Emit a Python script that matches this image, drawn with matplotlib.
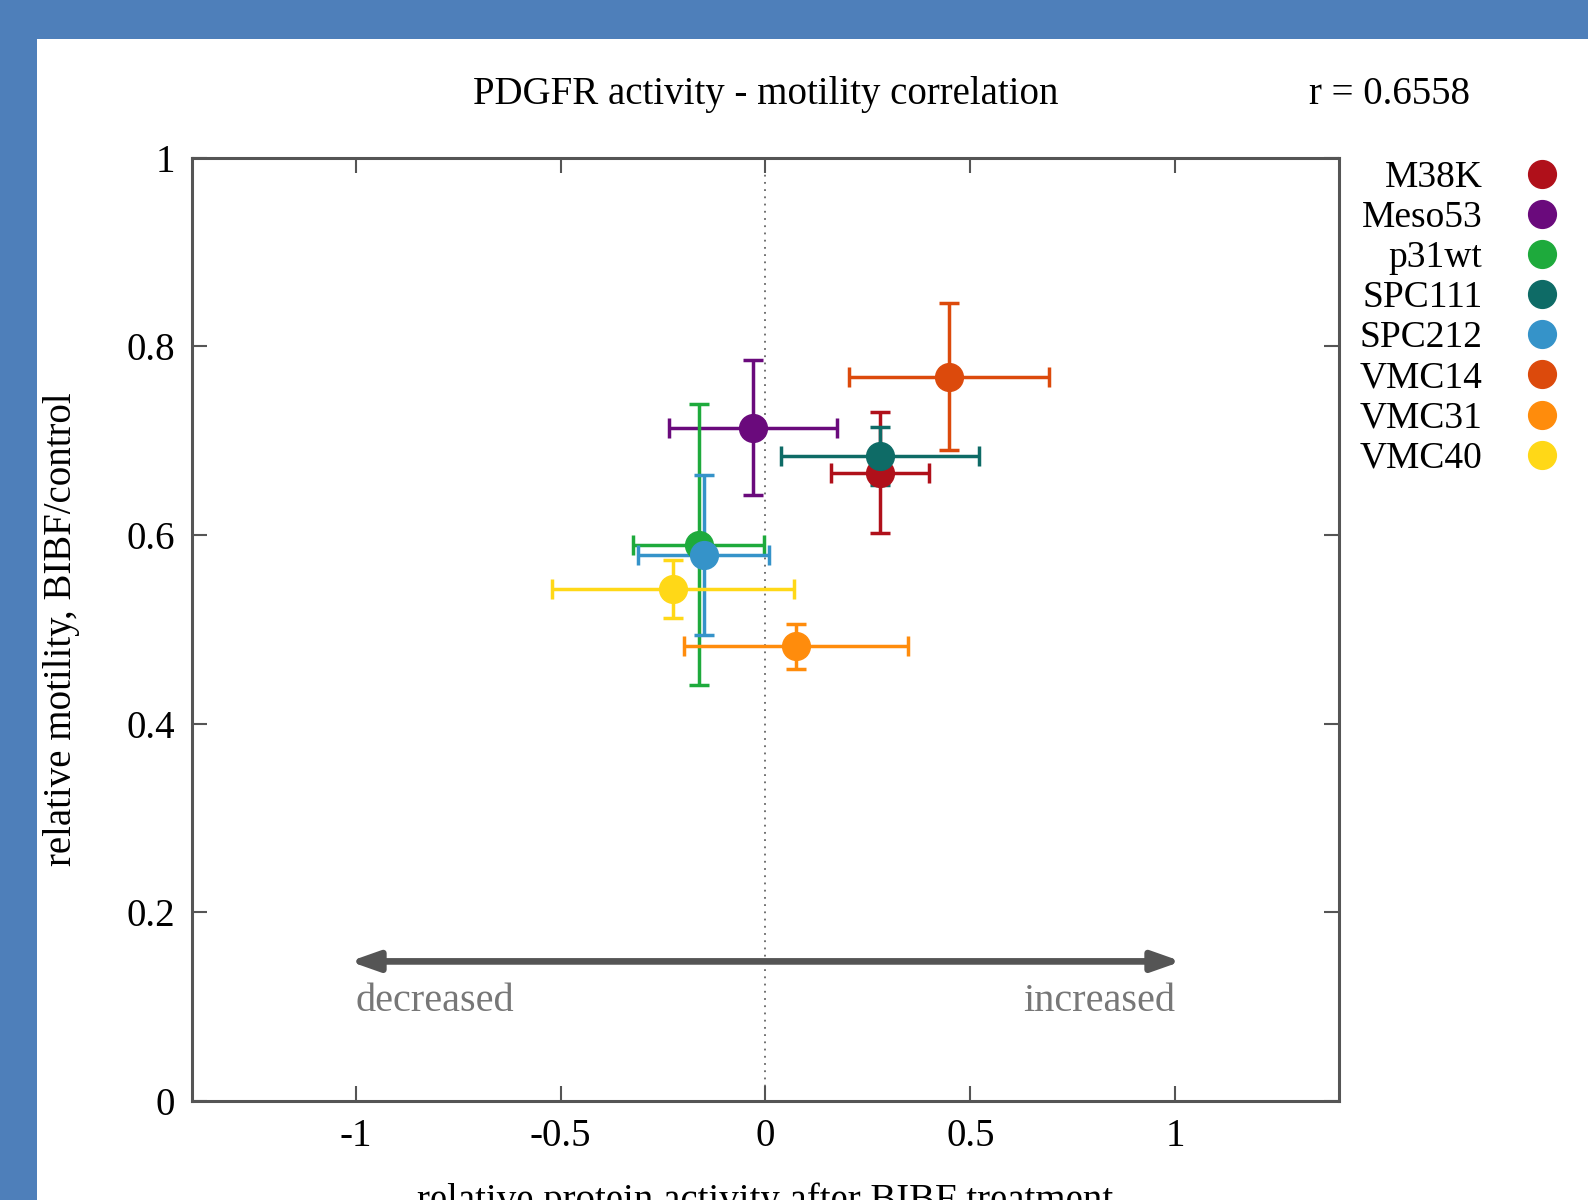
import matplotlib.pyplot as plt
from matplotlib.patches import Rectangle

plt.rcParams['font.family'] = ['Liberation Serif', 'DejaVu Serif']

# cell lines and values
lines = ["M38K", "Meso53", "p31wt", "SPC111", "SPC212", "VMC14", "VMC31", "VMC40"]
activity = [0.279, -0.030, -0.163, 0.279, -0.151, 0.447, 0.074, -0.225]
activity_err = [0.120, 0.205, 0.160, 0.242, 0.160, 0.244, 0.273, 0.295]
motility = [0.666, 0.714, 0.590, 0.684, 0.579, 0.768, 0.482, 0.543]
motility_err = [0.064, 0.072, 0.149, 0.031, 0.085, 0.078, 0.024, 0.031]
colors = ["#b0101a", "#6a0a7c", "#1eaa3c", "#0e6b66", "#3593c9", "#dc4a0c", "#ff8c0c", "#ffd817"]

r_value = 0.6558

fig = plt.figure(figsize=(15.88, 12), dpi=100, facecolor="#4e7fba")
# white panel inside the blue frame
fig.patches.append(Rectangle((37 / 1588, 0), 1, 1 - 39 / 1200, transform=fig.transFigure,
                             facecolor="white", edgecolor="none", zorder=-10))

ax = fig.add_axes([0.1209, 0.0825, 0.7223, 0.786])
ax.set_facecolor("white")

ax.axvline(0, color="#666666", lw=1.3, ls=(0, (1, 3)), zorder=1)

handles = []
for name, x, xe, y, ye, c in zip(lines, activity, activity_err, motility, motility_err, colors):
    eb = ax.errorbar(x, y, xerr=xe, yerr=ye, fmt="o", color=c, ms=20, elinewidth=2.5,
                     capsize=7, capthick=2.5, label=name, zorder=3)
    handles.append(eb.lines[0])

# decreased / increased arrow
ax.annotate("", xy=(1.015, 0.148), xytext=(-1.015, 0.148),
            arrowprops=dict(arrowstyle="<|-|>,head_length=1.7,head_width=0.6",
                            color="#555555", lw=4.8, shrinkA=0, shrinkB=0))
ax.text(-1.0, 0.106, "decreased", ha="left", va="center", fontsize=29, color="#777777")
ax.text(1.0, 0.106, "increased", ha="right", va="center", fontsize=29, color="#777777")

ax.set_xlim(-1.4, 1.4)
ax.set_ylim(0, 1)
ax.set_xticks([-1, -0.5, 0, 0.5, 1])
ax.set_xticklabels(["-1", "-0.5", "0", "0.5", "1"])
ax.set_yticks([0, 0.2, 0.4, 0.6, 0.8, 1])
ax.set_yticklabels(["0", "0.2", "0.4", "0.6", "0.8", "1"])
ax.tick_params(direction="in", length=11, width=1.5, color="#555555", labelsize=28,
               top=True, right=True, pad=12)
for s in ax.spines.values():
    s.set_color("#555555")
    s.set_linewidth(2.2)

ax.set_xlabel("relative protein activity after BIBF treatment", fontsize=28, labelpad=20)
ax.set_ylabel("relative motility, BIBF/control", fontsize=28)
ax.yaxis.set_label_coords(-0.098, 0.5)
ax.set_title("PDGFR activity - motility correlation", fontsize=28, pad=39)
ax.text(1.044, 1.067, "r = %.4f" % r_value, transform=ax.transAxes, ha="center", va="center",
        fontsize=28)

ax.legend(handles=handles, labels=lines, loc="upper left", bbox_to_anchor=(0.995, 1.025),
          markerfirst=False, frameon=False, fontsize=27, labelspacing=0.15,
          handletextpad=1.18, handlelength=0.8, borderaxespad=0.3)

fig.savefig("out.png", dpi=100, facecolor=fig.get_facecolor())
